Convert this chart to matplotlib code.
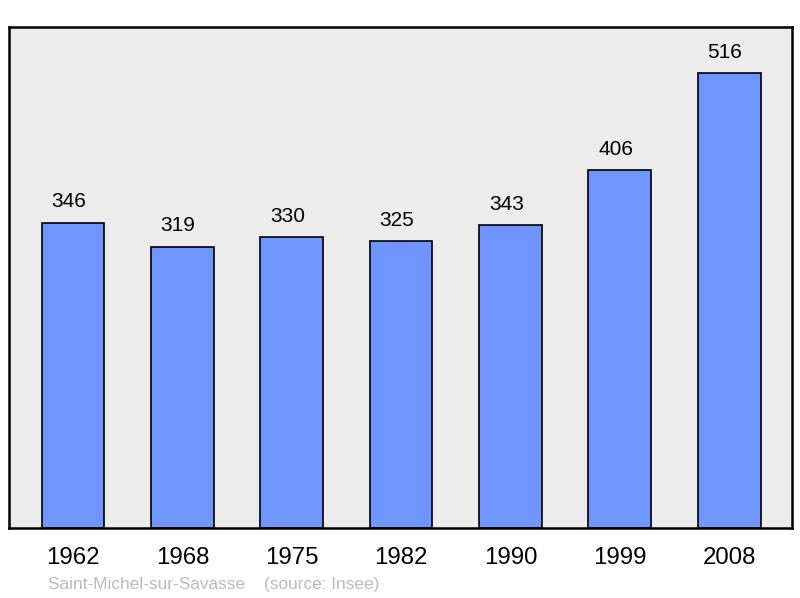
import matplotlib
matplotlib.use("Agg")
import matplotlib.pyplot as plt

years = ["1962", "1968", "1975", "1982", "1990", "1999", "2008"]
population = [346, 319, 330, 325, 343, 406, 516]

plt.rcParams['font.family'] = ['Liberation Sans', 'DejaVu Sans']

fig = plt.figure(figsize=(8, 5.98), dpi=100)
ax = fig.add_axes([9/800, 1 - 528/598, 783/800, 501/598])
ax.set_facecolor("#ececec")

x = list(range(len(years)))
ax.bar(x, population, width=0.575, color="#6f96ff", edgecolor="black", linewidth=1.2, zorder=2)
for xi, v in zip(x, population):
    ax.annotate(str(v), (xi, v), xytext=(-3, 15), textcoords="offset points",
                ha="center", va="center", fontsize=15)

ax.set_xlim(-0.585, 6.575)
ax.set_ylim(0, 568)
ax.set_xticks(x)
ax.set_xticklabels(years, fontsize=17.3)
ax.tick_params(axis="x", length=0, pad=13.5)
ax.set_yticks([])
for s in ax.spines.values():
    s.set_linewidth(1.8)
    s.set_color("black")

fig.text(48/800, 1 - 584/598, "Saint-Michel-sur-Savasse    (source: Insee)",
         fontsize=12.4, color="#bbbbbb", ha="left", va="center")

fig.savefig("out.png", dpi=100)
